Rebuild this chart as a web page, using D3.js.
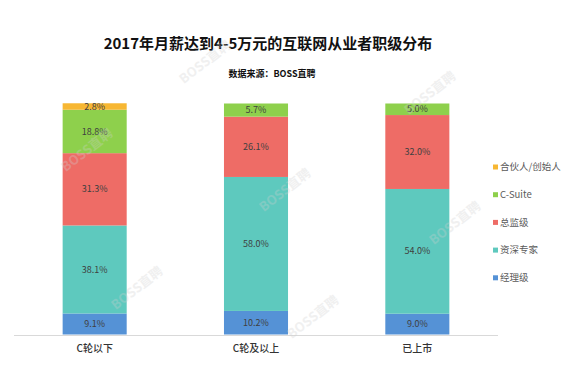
<!DOCTYPE html>
<html lang="zh">
<head>
  <meta charset="UTF-8" />
  <title>2017年月薪达到4-5万元的互联网从业者职级分布</title>
  <script src="https://d3js.org/d3.v7.min.js"></script>
  <style>
    body {
      margin: 0;
      background: #fff;
      font-family: "Noto Sans CJK SC", "Noto Sans", sans-serif;
    }
    svg { display: block; }
  </style>
</head>
<body>
<svg width="572" height="385"></svg>
<script>
  // data
  const categories = ["C轮以下", "C轮及以上", "已上市"];
  const seriesNames = ["经理级", "资深专家", "总监级", "C-Suite", "合伙人/创始人"];
  const manager = [9.1, 10.2, 9.0];
  const expert = [38.1, 58.0, 54.0];
  const director = [31.3, 26.1, 32.0];
  const cSuite = [18.8, 5.7, 5.0];
  const founder = [2.8, 0, 0];
  const colors = ["#5592d6", "#5ec9be", "#ee6c66", "#8ed04c", "#f7b733"];

  const svg = d3.select("svg");

  const rows = categories.map((c, i) => ({
    cat: c,
    "经理级": manager[i],
    "资深专家": expert[i],
    "总监级": director[i],
    "C-Suite": cSuite[i],
    "合伙人/创始人": founder[i]
  }));

  const stacked = d3.stack().keys(seriesNames)(rows);

  const x = d3.scaleBand().domain(categories).range([14, 498]).paddingInner(0.603).paddingOuter(0.3015);
  const y = d3.scaleLinear().domain([0, 100]).range([334.5, 103.5]);
  const color = d3.scaleOrdinal().domain(seriesNames).range(colors);

  // title
  svg.append("text")
    .attr("x", 268).attr("y", 49)
    .attr("text-anchor", "middle")
    .attr("font-size", 15).attr("font-weight", "bold").attr("fill", "#111")
    .text("2017年月薪达到4-5万元的互联网从业者职级分布");
  svg.append("text")
    .attr("x", 272).attr("y", 77)
    .attr("text-anchor", "middle")
    .attr("font-size", 9).attr("font-weight", "bold").attr("fill", "#111")
    .text("数据来源：BOSS直聘");

  // bars
  const layers = svg.append("g").selectAll("g")
    .data(stacked)
    .join("g")
    .attr("fill", d => color(d.key));

  layers.selectAll("rect")
    .data(d => d.filter(s => s[1] - s[0] > 0))
    .join("rect")
    .attr("x", d => x(d.data.cat))
    .attr("width", x.bandwidth())
    .attr("y", d => y(d[1]))
    .attr("height", d => y(d[0]) - y(d[1]));

  // value labels
  layers.selectAll("text")
    .data(d => d.filter(s => s[1] - s[0] > 0).map(s => ({ s, key: d.key })))
    .join("text")
    .attr("x", d => x(d.s.data.cat) + x.bandwidth() / 2)
    .attr("y", d => (y(d.s[0]) + y(d.s[1])) / 2)
    .attr("dy", "0.35em")
    .attr("text-anchor", "middle")
    .attr("font-size", 9)
    .attr("fill", "#404040")
    .text(d => d.s.data[d.key].toFixed(1) + "%");

  // x axis
  const xAxis = svg.append("g")
    .attr("transform", "translate(0,335)")
    .call(d3.axisBottom(x).tickSize(0).tickPadding(10));
  xAxis.select(".domain").attr("stroke", "#d9d9d9").attr("d", "M14,0.5H498");
  xAxis.selectAll("text")
    .attr("font-family", "Noto Sans CJK SC, sans-serif")
    .attr("font-size", 10).attr("font-weight", 500).attr("fill", "#333");

  // legend
  const legend = svg.append("g").selectAll("g")
    .data(seriesNames.slice().reverse())
    .join("g")
    .attr("transform", (d, i) => `translate(493,${167 + i * 27.7})`);
  legend.append("rect")
    .attr("x", 0).attr("y", -2.5)
    .attr("width", 5).attr("height", 5)
    .attr("fill", d => color(d));
  legend.append("text")
    .attr("x", 7).attr("dy", "0.35em")
    .attr("font-size", 9.5).attr("fill", "#595959")
    .text(d => d);

  // watermark
  const marks = [[205, 62], [87, 150], [137, 288], [285, 190], [430, 93], [455, 223], [313, 317]];
  svg.append("g").selectAll("text")
    .data(marks)
    .join("text")
    .attr("transform", d => `translate(${d[0]},${d[1]}) rotate(-38)`)
    .attr("text-anchor", "middle").attr("dy", "0.35em")
    .attr("font-size", 13).attr("font-weight", "bold")
    .attr("fill", "#d0d0d0").attr("opacity", 0.3)
    .text("BOSS直聘");
</script>
</body>
</html>
